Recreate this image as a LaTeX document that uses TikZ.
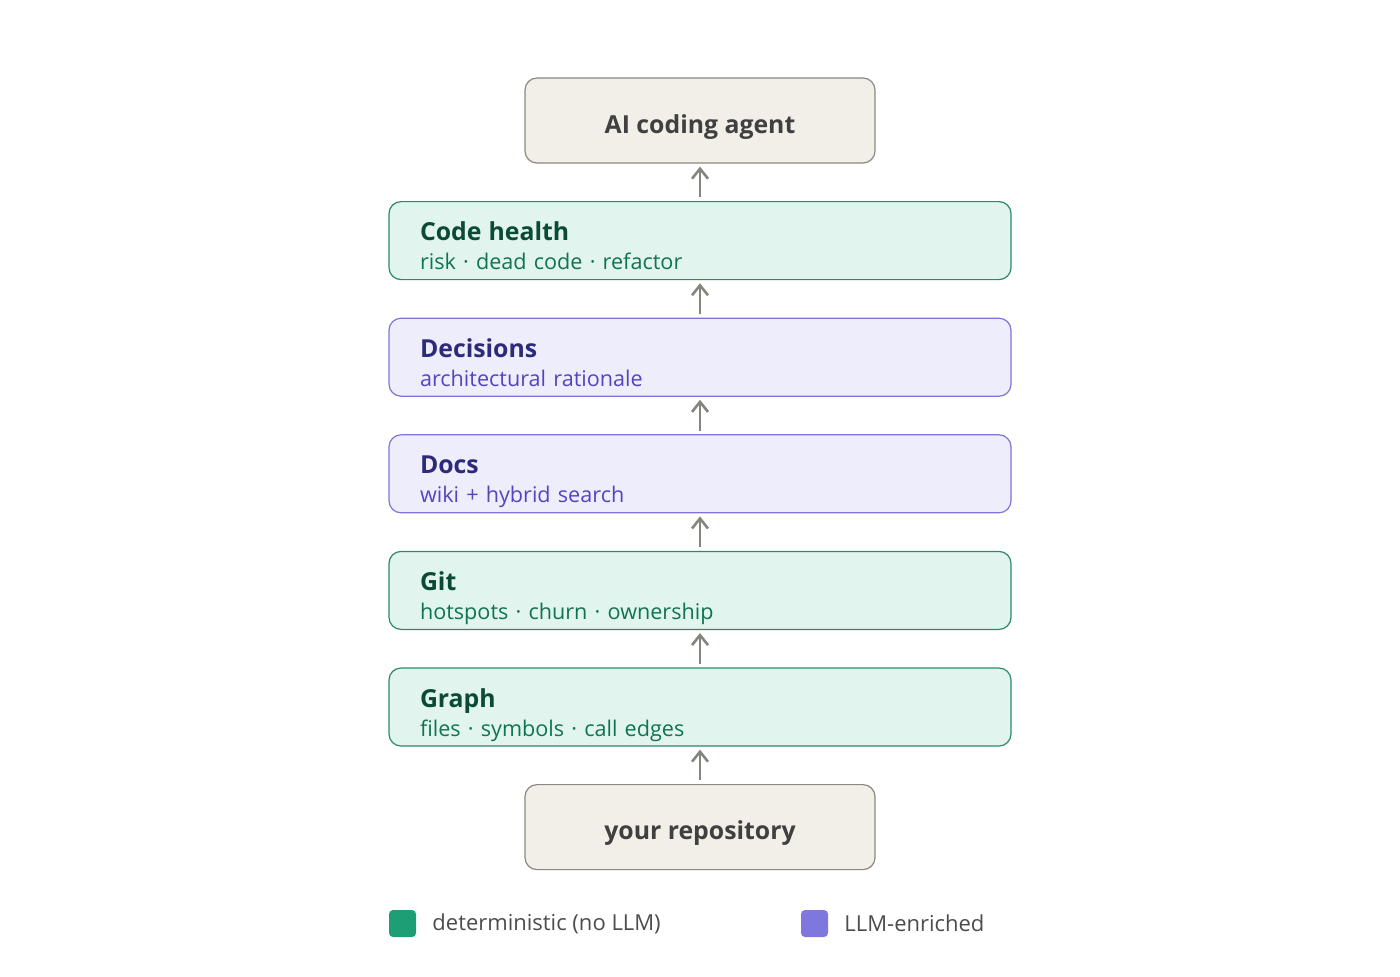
\documentclass[tikz,border=0pt]{standalone}
\usepackage{fontspec}
\setmainfont{Open Sans}
\usetikzlibrary{positioning,arrows.meta}

\definecolor{greenfill}{HTML}{E1F5EE}
\definecolor{greenline}{HTML}{2A8A68}
\definecolor{greentitle}{HTML}{0B4A34}
\definecolor{greentext}{HTML}{107352}
\definecolor{purplefill}{HTML}{EEEDFC}
\definecolor{purpleline}{HTML}{7F74D8}
\definecolor{purpletitle}{HTML}{2E2A7A}
\definecolor{purpletext}{HTML}{5544C0}
\definecolor{endfill}{HTML}{F1EFE8}
\definecolor{endline}{HTML}{8A8880}
\definecolor{arrowgray}{HTML}{85857E}
\definecolor{legendgreen}{HTML}{1D9E75}
\definecolor{legendpurple}{HTML}{7F77DD}

\tikzstyle{ends} = [rectangle,rounded corners=6pt,draw=endline,fill=endfill,line width=0.6pt,minimum width=175pt,minimum height=42.5pt,inner ysep=0pt,text height=27.5pt,text depth=15pt,font=\fontsize{12.4}{15}\selectfont\bfseries,text=black!75]
\tikzstyle{layer} = [rectangle,rounded corners=6pt,line width=0.6pt,text width=280pt,inner xsep=15.5pt,inner ysep=0pt,minimum height=39pt,text height=19.5pt,text depth=19.5pt,align=left,font=\fontsize{10.8}{14.5}\selectfont]
\tikzstyle{det} = [layer,draw=greenline,fill=greenfill]
\tikzstyle{llm} = [layer,draw=purpleline,fill=purplefill]
\tikzstyle{up} = [-{Straight Barb[length=5pt,width=8pt]},draw=arrowgray,line width=1.3pt,shorten <=1.8pt,shorten >=1.5pt]
\tikzstyle{swatch} = [rectangle,rounded corners=2pt,minimum size=13.5pt,inner sep=0pt]
\tikzstyle{legtext} = [font=\fontsize{11}{13}\selectfont,text=black!70,anchor=west]

\newcommand{\laytitle}[2]{{\fontsize{12.4}{14.5}\selectfont\bfseries\color{#1}#2}}
\newcommand{\laysub}[2]{{\color{#1}#2}}

\begin{document}
\begin{tikzpicture}[x=0.5pt,y=-0.5pt]

	\useasboundingbox (0,0) rectangle (1400,976);

	\node[ends] (agent) at (700,120.5) {AI coding agent};
	\node[det,below=18.7pt of agent] (health) {\laytitle{greentitle}{Code health}\\\laysub{greentext}{risk · dead code · refactor}};
	\node[llm,below=18.7pt of health] (decisions) {\laytitle{purpletitle}{Decisions}\\\laysub{purpletext}{architectural rationale}};
	\node[llm,below=18.7pt of decisions] (docs) {\laytitle{purpletitle}{Docs}\\\laysub{purpletext}{wiki + hybrid search}};
	\node[det,below=18.7pt of docs] (git) {\laytitle{greentitle}{Git}\\\laysub{greentext}{hotspots · churn · ownership}};
	\node[det,below=18.7pt of git] (graph) {\laytitle{greentitle}{Graph}\\\laysub{greentext}{files · symbols · call edges}};
	\node[ends,below=18.7pt of graph] (repo) {your repository};

	\draw[up] (repo) -- (graph);
	\draw[up] (graph) -- (git);
	\draw[up] (git) -- (docs);
	\draw[up] (docs) -- (decisions);
	\draw[up] (decisions) -- (health);
	\draw[up] (health) -- (agent);

	% legend
	\node[swatch,fill=legendgreen] (detkey) at (402.5,923.5) {};
	\node[legtext,right=4.5pt of detkey] (dettext) {deterministic (no LLM)};
	\node[swatch,fill=legendpurple] (llmkey) at (814.5,923.5) {};
	\node[legtext,right=4.5pt of llmkey] (llmtext) {LLM-enriched};

\end{tikzpicture}
\end{document}
